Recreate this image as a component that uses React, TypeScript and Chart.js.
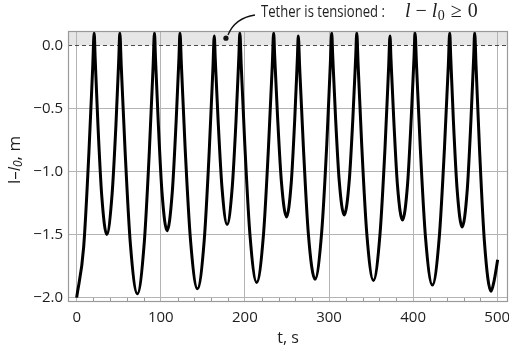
import React, { useEffect, useRef } from "react";
import { Chart, registerables } from "chart.js";

Chart.register(...registerables);

// ---- data ----
const TIME_S = [
  0, 8.32, 14.56, 19.14, 20.8, 22.0, 25.3, 29.8, 35.8, 42.0, 46.7, 50.1, 51.3,
  53.0, 57.6, 63.8, 72.2, 80.3, 86.4, 90.9, 92.5, 93.7, 97.0, 101.5, 107.5,
  113.6, 118.2, 121.6, 122.8, 124.5, 129.0, 135.3, 143.6, 151.6, 157.6, 162.0,
  163.6, 164.8, 168.2, 172.8, 178.9, 184.9, 189.5, 192.8, 194.0, 195.6, 200.0,
  206.0, 214.0, 222.1, 228.1, 232.6, 234.2, 235.4, 238.8, 243.4, 249.5, 255.1,
  259.3, 262.4, 263.5, 265.1, 269.5, 275.4, 283.4, 291.3, 297.3, 301.6, 303.2,
  304.4, 307.7, 312.1, 318.1, 324.1, 328.5, 331.8, 333.0, 334.6, 338.9, 344.9,
  352.8, 360.7, 366.6, 370.9, 372.5, 373.7, 377.0, 381.4, 387.4, 393.4, 397.8,
  401.1, 402.3, 404.0, 408.5, 414.7, 422.9, 431.1, 437.3, 441.9, 443.5, 444.7,
  447.9, 452.4, 458.3, 464.3, 468.7, 472.0, 473.2, 474.8, 479.0, 484.8, 492.6,
  496.5, 500.5,
];

const ELONGATION_M = [
  -2.0, -1.6, -0.85, -0.16, 0.1, -0.1, -0.63, -1.19, -1.5, -1.19, -0.63, -0.1, 0.1,
  -0.16, -0.84, -1.57, -1.97, -1.57, -0.84, -0.16, 0.1, -0.1, -0.61, -1.17, -1.47,
  -1.17, -0.61, -0.1, 0.1, -0.15, -0.82, -1.54, -1.93, -1.55, -0.84, -0.18,
  0.075, -0.11, -0.6, -1.13, -1.42, -1.13, -0.59, -0.09, 0.1, -0.15, -0.8,
  -1.5, -1.88, -1.5, -0.8, -0.15, 0.1, -0.08, -0.56, -1.08, -1.36, -1.09,
  -0.58, -0.1, 0.075, -0.17, -0.8, -1.49, -1.855, -1.48, -0.79, -0.14, 0.1,
  -0.08, -0.56, -1.07, -1.345, -1.07, -0.56, -0.08, 0.1, -0.15, -0.79, -1.49,
  -1.865, -1.49, -0.81, -0.17, 0.075, -0.11, -0.59, -1.11, -1.385, -1.1, -0.57,
  -0.09, 0.1, -0.15, -0.81, -1.52, -1.9, -1.52, -0.81, -0.15, 0.1, -0.09,
  -0.6, -1.15, -1.44, -1.15, -0.6, -0.09, 0.1, -0.16, -0.83, -1.56, -1.95,
  -1.86, -1.7,
];

const X_TICKS = [0, 100, 200, 300, 400, 500];
const X_MINOR_TICKS = [20, 40, 60, 80, 120, 140, 160, 180, 220, 240, 260, 280, 320, 340, 360, 380, 420, 440, 460, 480];
const Y_TICKS = [0, -0.5, -1.0, -1.5, -2.0];
const X_RANGE = [-10.3, 512.8];
const Y_RANGE = [-2.035, 0.115];
const TENSION_THRESHOLD = 0;
const ANNOTATION_POINT = { t: 177.5, v: 0.058 };
const ANNOTATION_TEXT = "Tether is tensioned :";

const FONT_SANS = "'Open Sans', 'Noto Sans', sans-serif";
const FONT_MATH = "'Liberation Serif', 'DejaVu Serif', serif";
const TEXT_COLOR = "#1e1e1e";
const GRID_COLOR = "#b4b4b4";
const FRAME_COLOR = "#9a9a9a";

const fmtY = (v: number) => (v < 0 ? "\u2212" : "") + Math.abs(v).toFixed(1);

const decorPlugin = {
  id: "decor",
  beforeDraw(chart: any) {
    const { ctx, chartArea, scales } = chart;
    const y0 = scales.y.getPixelForValue(TENSION_THRESHOLD);
    ctx.save();
    ctx.fillStyle = "#e6e6e6";
    ctx.fillRect(chartArea.left, chartArea.top, chartArea.right - chartArea.left, y0 - chartArea.top);
    ctx.restore();
  },
  beforeDatasetsDraw(chart: any) {
    const { ctx, chartArea, scales } = chart;
    const y0 = Math.round(scales.y.getPixelForValue(TENSION_THRESHOLD)) + 0.5;
    ctx.save();
    ctx.strokeStyle = "#4a4a4a";
    ctx.lineWidth = 1;
    ctx.setLineDash([4, 3]);
    ctx.beginPath();
    ctx.moveTo(chartArea.left, y0);
    ctx.lineTo(chartArea.right, y0);
    ctx.stroke();
    ctx.restore();
  },
  afterDatasetsDraw(chart: any) {
    const { ctx, chartArea, scales } = chart;
    const { left, right, top, bottom } = chartArea;
    ctx.save();
    ctx.strokeStyle = FRAME_COLOR;
    ctx.lineWidth = 1;
    ctx.beginPath();
    X_MINOR_TICKS.forEach((t) => {
      const x = Math.round(scales.x.getPixelForValue(t)) + 0.5;
      ctx.moveTo(x, bottom);
      ctx.lineTo(x, bottom - 4);
    });
    ctx.stroke();
    ctx.lineWidth = 1.2;
    ctx.strokeRect(left + 0.5, top + 0.5, right - left - 1, bottom - top - 1);
    ctx.restore();
  },
  afterDraw(chart: any) {
    const { ctx, scales } = chart;
    const px = scales.x.getPixelForValue(ANNOTATION_POINT.t);
    const py = scales.y.getPixelForValue(ANNOTATION_POINT.v);
    ctx.save();
    // callout curve and dot
    ctx.strokeStyle = "#111";
    ctx.lineWidth = 1.3;
    ctx.beginPath();
    ctx.moveTo(px + 29, 15);
    ctx.quadraticCurveTo(px + 9, 18, px + 2, 35);
    ctx.stroke();
    ctx.fillStyle = "#111";
    ctx.beginPath();
    ctx.arc(px, py, 2.6, 0, Math.PI * 2);
    ctx.fill();
    // annotation text, condensed to the reference width
    ctx.fillStyle = TEXT_COLOR;
    ctx.textBaseline = "alphabetic";
    ctx.textAlign = "left";
    ctx.font = `15.5px ${FONT_SANS}`;
    const w = ctx.measureText(ANNOTATION_TEXT).width;
    const textX = px + 35;
    const baseY = 17;
    ctx.save();
    ctx.translate(textX, baseY);
    ctx.scale(124 / w, 1);
    ctx.fillText(ANNOTATION_TEXT, 0, 0);
    ctx.restore();
    // math part: l − l0 ≥ 0
    let mx = px + 179;
    const mathParts = [
      { s: "l", f: `italic 20px ${FONT_MATH}`, dy: 0, gap: 5 },
      { s: "\u2212", f: `20px ${FONT_MATH}`, dy: 0, gap: 5 },
      { s: "l", f: `italic 20px ${FONT_MATH}`, dy: 0, gap: 0.5 },
      { s: "0", f: `14px ${FONT_MATH}`, dy: 3, gap: 6 },
      { s: "\u2265", f: `20px ${FONT_MATH}`, dy: 0, gap: 6 },
      { s: "0", f: `20px ${FONT_MATH}`, dy: 0, gap: 0 },
    ];
    mathParts.forEach((p) => {
      ctx.font = p.f;
      ctx.fillText(p.s, mx, baseY + p.dy);
      mx += ctx.measureText(p.s).width + p.gap;
    });
    // y-axis title: l–l0, m
    const titleParts = [
      { s: "l\u2013", f: `17px ${FONT_SANS}`, dy: 0 },
      { s: "l", f: `italic 17px ${FONT_SANS}`, dy: 0 },
      { s: "0", f: `italic 12px ${FONT_SANS}`, dy: 4 },
      { s: ", m", f: `17px ${FONT_SANS}`, dy: 0 },
    ];
    let total = 0;
    titleParts.forEach((p) => {
      ctx.font = p.f;
      total += ctx.measureText(p.s).width;
    });
    ctx.translate(15, 160);
    ctx.rotate(-Math.PI / 2);
    ctx.textBaseline = "middle";
    let tx = -total / 2;
    titleParts.forEach((p) => {
      ctx.font = p.f;
      ctx.fillText(p.s, tx, p.dy);
      tx += ctx.measureText(p.s).width;
    });
    ctx.restore();
  },
};

export default function App() {
  const canvasRef = useRef<HTMLCanvasElement | null>(null);

  useEffect(() => {
    const canvas = canvasRef.current;
    if (!canvas) return;
    const points = TIME_S.map((t, i) => ({ x: t, y: ELONGATION_M[i] }));
    const chart = new Chart(canvas, {
      type: "line",
      data: {
        datasets: [
          {
            data: points,
            borderColor: "#000",
            borderWidth: 3,
            pointRadius: 0,
            fill: false,
            cubicInterpolationMode: "monotone",
            borderJoinStyle: "round",
          } as any,
        ],
      },
      options: {
        animation: false,
        responsive: false,
        devicePixelRatio: 1,
        events: [],
        layout: { padding: { top: 31, right: 1, left: 0, bottom: 0 } },
        plugins: { legend: { display: false }, tooltip: { enabled: false } },
        scales: {
          x: {
            type: "linear",
            min: X_RANGE[0],
            max: X_RANGE[1],
            afterBuildTicks: (s: any) => {
              s.ticks = X_TICKS.map((v) => ({ value: v }));
            },
            afterFit: (s: any) => {
              s.height = 54;
              s.paddingLeft = 0;
              s.paddingRight = 0;
            },
            grid: { color: GRID_COLOR, lineWidth: 1, drawTicks: false },
            border: { display: false },
            ticks: {
              padding: 7,
              autoSkip: false,
              maxRotation: 0,
              color: TEXT_COLOR,
              font: { family: FONT_SANS, size: 15 },
              callback: (v: any) => String(v),
            },
            title: {
              display: true,
              text: "t, s",
              color: TEXT_COLOR,
              font: { family: FONT_SANS, size: 16 },
              padding: { top: 0, bottom: 8 },
            },
          },
          y: {
            type: "linear",
            min: Y_RANGE[0],
            max: Y_RANGE[1],
            afterBuildTicks: (s: any) => {
              s.ticks = Y_TICKS.map((v) => ({ value: v }));
            },
            afterFit: (s: any) => {
              s.width = 68;
              s.paddingTop = 0;
              s.paddingBottom = 0;
            },
            grid: {
              color: (c: any) => (c.tick && c.tick.value === TENSION_THRESHOLD ? "rgba(0,0,0,0)" : GRID_COLOR),
              lineWidth: 1,
              drawTicks: false,
            },
            border: { display: false },
            ticks: {
              padding: 5,
              color: TEXT_COLOR,
              font: { family: FONT_SANS, size: 15 },
              callback: (v: any) => fmtY(Number(v)),
            },
            title: { display: false },
          },
        },
      } as any,
      plugins: [decorPlugin],
    });
    return () => chart.destroy();
  }, []);

  return (
    <div style={{ position: "fixed", left: 0, top: 0, width: 509, height: 356, background: "#fff" }}>
      <canvas ref={canvasRef} width={509} height={356} style={{ width: 509, height: 356, display: "block" }} />
    </div>
  );
}
